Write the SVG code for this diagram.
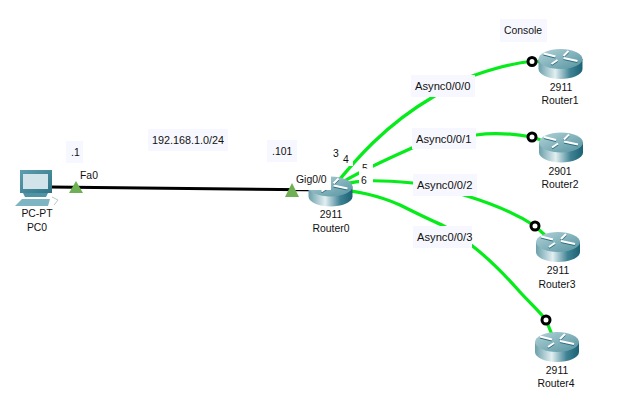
<svg xmlns="http://www.w3.org/2000/svg" width="617" height="415" viewBox="0 0 617 415">
<defs>
<linearGradient id="side" x1="0" x2="1" y1="0" y2="0"><stop offset="0" stop-color="#6a9fab"/><stop offset="0.38" stop-color="#e2eff1"/><stop offset="0.72" stop-color="#3f8294"/><stop offset="1" stop-color="#1b6274"/></linearGradient>
<linearGradient id="top" x1="0" x2="1" y1="0" y2="1"><stop offset="0" stop-color="#b4d3d9"/><stop offset="1" stop-color="#54939f"/></linearGradient>
<linearGradient id="mon" x1="0" x2="1" y1="0" y2="1"><stop offset="0" stop-color="#5d9fb0"/><stop offset="1" stop-color="#2f7485"/></linearGradient>
<g id="router">
<path d="M-22 -5V5C-22 11 -11 15 0 15S22 11 22 5V-5Z" fill="url(#side)"/>
<ellipse cx="0" cy="-5" rx="22" ry="10" fill="url(#top)"/>
<path d="M-17 -5.500L-5 -2.500M-9 5L-3 1M3 -1L17 2M3 -3L8 -8" transform="translate(0 -4)" stroke="#2d6f80" stroke-width="2" fill="none"/>
<path d="M-17 -6.500L-5 -3.500M-9 4L-3 0M3 -2L17 1M3 -4L8 -9" transform="translate(0 -4)" stroke="#fff" stroke-width="2" fill="none"/>
</g>
</defs>
<style>
text{font-family:"Liberation Sans",Arial,sans-serif;font-size:10.400px;fill:#111}
.a{font-size:11.200px}
.n{font-size:10.800px}
.m{text-anchor:middle}
.bg{fill:#f7f8ff}
.w{fill:#fff}
.g{fill:none;stroke:#05ec1a;stroke-width:3.200}
.c{fill:none;stroke:#000;stroke-width:3}
.p{fill:#fff;stroke:#000;stroke-width:3}
.t{fill:#6eb053}
</style>
<rect width="617" height="415" fill="#fff"/>
<g id="connectors">
<path class="c" d="M50 187L331 190"/>
<path class="g" d="M331 190C355 160 385 125 433 97C450 87 470 77 475 75C490 70 510 63 532 61.500L560 62"/>
<path class="g" d="M331 190C345 178 385 160 412 148C435 140 460 135 476 135C495 132 515 134 532 137L561 147"/>
<path class="g" d="M331 190C350 178 380 180 413 183C435 186 455 192 467 196C490 203 515 213 535 226L558 247"/>
<path class="g" d="M331 190C352 189 380 196 400 205C420 215 435 222 442 225C455 232 465 240 475 248C490 260 505 275 520 292C530 303 540 312 546 320L557 347"/>
<circle class="p" cx="532" cy="61.500" r="4"/>
<circle class="p" cx="532" cy="137" r="4"/>
<circle class="p" cx="535" cy="226" r="4"/>
<circle class="p" cx="546" cy="320" r="4"/>
</g>
<g id="pc0">
<path d="M20 170H52V193H20Z" fill="url(#mon)"/>
<rect x="23" y="174" width="25" height="15" fill="#d3e3ea"/>
<path d="M23 193H48L46 197H25Z" fill="#4f93a5"/>
<path d="M15 206L22 199H50L48 206Z" fill="#7fb5c3"/>
<path d="M52 197L58 200L54 205" stroke="#b8c8cc" fill="none"/>
<text class="m" x="37" y="217">PC-PT</text>
<text class="m" x="37" y="231">PC0</text>
</g>
<g id="router0">
<use href="#router" x="330.500" y="191.500"/>
<rect x="293" y="173" width="38" height="17" class="w"/>
<text x="296" y="183">Gig0/0</text>
<text class="m" x="331" y="218">2911</text>
<text class="m" x="331" y="232">Router0</text>
</g>
<g id="router1"><use href="#router" x="560.500" y="64"/><text class="m" x="561" y="91">2911</text><text class="m" x="560" y="104">Router1</text></g>
<g id="router2"><use href="#router" x="561" y="147.500"/><text class="m" x="560" y="175">2901</text><text class="m" x="560" y="188">Router2</text></g>
<g id="router3"><use href="#router" x="558" y="247"/><text class="m" x="558" y="274">2911</text><text class="m" x="557" y="288">Router3</text></g>
<g id="router4"><use href="#router" x="557" y="347"/><text class="m" x="557" y="374">2911</text><text class="m" x="556" y="387">Router4</text></g>
<g id="labels">
<polygon class="t" points="76,181 83,193 69,193"/><text x="80" y="179">Fa0</text>
<polygon class="t" points="292,183 299,197 285,197"/>
<rect class="bg" x="66" y="141" width="17" height="22"/><text x="71" y="156">.1</text>
<rect class="bg" x="148" y="129" width="80" height="22"/><text class="n" x="152" y="144">192.168.1.0/24</text>
<rect class="bg" x="267" y="140" width="30" height="22"/><text x="272" y="155">.101</text>
<rect class="bg" x="500" y="19" width="47" height="23"/><text x="504" y="34">Console</text>
<rect class="bg" x="411" y="75" width="64" height="22"/><text class="a" x="415" y="90">Async0/0/0</text>
<rect class="bg" x="412" y="128" width="64" height="21"/><text class="a" x="416" y="143">Async0/0/1</text>
<rect class="bg" x="413" y="174" width="64" height="22"/><text class="a" x="417" y="189">Async0/0/2</text>
<rect class="bg" x="413" y="226" width="59" height="22"/><text class="a" x="417" y="241">Async0/0/3</text>
<rect class="w" x="332" y="146" width="11" height="15"/><text x="333" y="157">3</text>
<rect class="w" x="342" y="151" width="11" height="15"/><text x="343" y="163">4</text>
<rect class="w" x="360" y="163" width="13" height="6"/><text x="362" y="172">5</text>
<rect class="w" x="359" y="168.500" width="14" height="18.500"/><text x="361" y="184">6</text>
</g>
</svg>
